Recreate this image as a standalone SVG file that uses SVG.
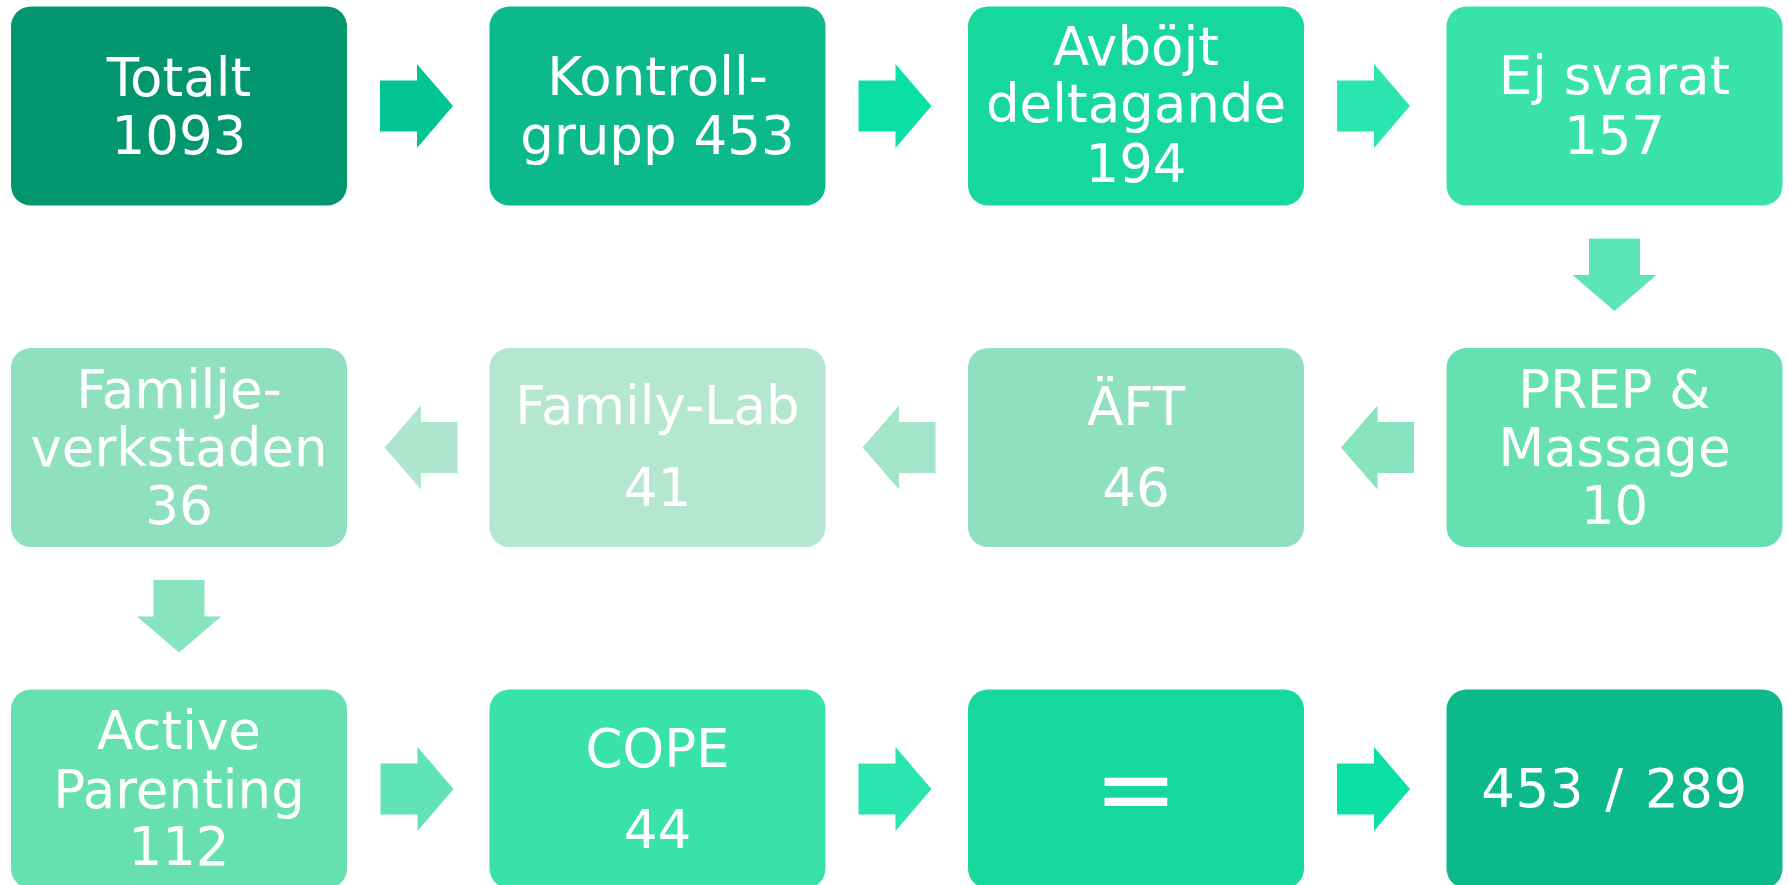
<svg xmlns="http://www.w3.org/2000/svg" xmlns:xlink="http://www.w3.org/1999/xlink" width="1789" height="885" viewBox="0 0 1789 885">
<style>
  text { font-family: "DejaVu Sans", Verdana, sans-serif; font-size: 53px; fill: #ffffff; text-anchor: middle; }
  .eq { font-size: 100px; }
  .res { word-spacing: 4px; letter-spacing: 0.5px; }
</style>
<defs>
  <rect id="box" width="336" height="199" rx="20" ry="20"/>
  <polygon id="arR" points="0,-25.5 37,-25.5 37,-42 73,0 37,42 37,25.5 0,25.5"/>
  <polygon id="arL" points="0,0 36.5,-42 36.5,-25.5 73,-25.5 73,25.5 36.5,25.5 36.5,42"/>
  <polygon id="arD" points="-25.5,0 25.5,0 25.5,36.5 42,36.5 0,72.5 -42,36.5 -25.5,36.5"/>
</defs>
<rect width="1789" height="885" fill="#ffffff"/>

<g id="connectors">
  <use xlink:href="#arR" x="380" y="106" fill="#03C493"/>
  <use xlink:href="#arR" x="858.5" y="106" fill="#0BE0A4"/>
  <use xlink:href="#arR" x="1337" y="106" fill="#2AE6AE"/>
  <use xlink:href="#arD" x="1614.5" y="238.5" fill="#5CE5B5"/>
  <use xlink:href="#arL" x="1341" y="447.5" fill="#88E3C0"/>
  <use xlink:href="#arL" x="862.5" y="447.5" fill="#A2E5CA"/>
  <use xlink:href="#arL" x="384.5" y="447.5" fill="#AFE6D0"/>
  <use xlink:href="#arD" x="179" y="580" fill="#88E3C0"/>
  <use xlink:href="#arR" x="380.5" y="789" fill="#60E3B5"/>
  <use xlink:href="#arR" x="858.5" y="789" fill="#2AE6AE"/>
  <use xlink:href="#arR" x="1337" y="789" fill="#0BE0A4"/>
</g>

<g id="n-totalt">
  <use xlink:href="#box" x="11" y="6.5" fill="#02966F"/>
  <text x="179" y="95.5">Totalt</text>
  <text x="179" y="154">1093</text>
</g>
<g id="n-kontroll">
  <use xlink:href="#box" x="489.5" y="6.5" fill="#0BB98A"/>
  <text x="657.5" y="95">Kontroll-</text>
  <text x="657.5" y="153.5">grupp 453</text>
</g>
<g id="n-avbojt">
  <use xlink:href="#box" x="968" y="6.5" fill="#16D89C"/>
  <text x="1136" y="65">Avböjt</text>
  <text x="1136" y="122">deltagande</text>
  <text x="1136" y="181.5">194</text>
</g>
<g id="n-ejsvarat">
  <use xlink:href="#box" x="1446.5" y="6.5" fill="#38E2A9"/>
  <text x="1614.5" y="94">Ej svarat</text>
  <text x="1614.5" y="153.5">157</text>
</g>

<g id="n-prep">
  <use xlink:href="#box" x="1446.5" y="348" fill="#66E0B1"/>
  <text x="1614.5" y="407.5">PREP &amp;</text>
  <text x="1614.5" y="465.7">Massage</text>
  <text x="1614.5" y="523.5">10</text>
</g>
<g id="n-aft">
  <use xlink:href="#box" x="968" y="348" fill="#8EE0C0"/>
  <text x="1136" y="424.5">ÄFT</text>
  <text x="1136" y="505.5">46</text>
</g>
<g id="n-familylab">
  <use xlink:href="#box" x="489.5" y="348" fill="#B4E6D1"/>
  <text x="657.5" y="424">Family-Lab</text>
  <text x="657.5" y="505.5">41</text>
</g>
<g id="n-familjeverkstaden">
  <use xlink:href="#box" x="11" y="348" fill="#8EE0C0"/>
  <text x="179" y="407.5">Familje-</text>
  <text x="179" y="465.7">verkstaden</text>
  <text x="179" y="524">36</text>
</g>

<g id="n-activeparenting">
  <use xlink:href="#box" x="11" y="689.5" fill="#66E0B1"/>
  <text x="179" y="748.5">Active</text>
  <text x="179" y="807.7">Parenting</text>
  <text x="179" y="865">112</text>
</g>
<g id="n-cope">
  <use xlink:href="#box" x="489.5" y="689.5" fill="#38E2A9"/>
  <text x="657.5" y="766.7">COPE</text>
  <text x="657.5" y="848.3">44</text>
</g>
<g id="n-equals">
  <use xlink:href="#box" x="968" y="689.5" fill="#16D89C"/>
  <text class="eq" x="1136" y="823">=</text>
</g>
<g id="n-result">
  <use xlink:href="#box" x="1446.5" y="689.5" fill="#0BB98A"/>
  <text class="res" x="1614.5" y="807">453 / 289</text>
</g>
</svg>
